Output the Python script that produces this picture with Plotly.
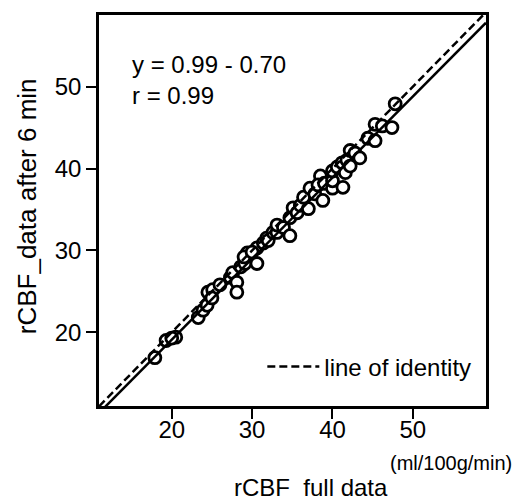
import plotly.graph_objects as go

# Data (rCBF, ml/100g/min)
full_data = [17.9, 19.3, 20.5, 20.0, 23.3, 23.9, 24.4, 24.5, 25.1, 25.0,
             26.0, 27.3, 27.6, 28.1, 28.1, 28.6, 29.1, 29.4, 29.0, 30.6,
             30.6, 30.0, 31.4, 31.8, 32.0, 32.6, 33.1, 33.1, 33.9, 34.7,
             34.7, 35.1, 35.6, 36.0, 36.4, 37.0, 37.2, 37.8, 38.5, 38.8,
             38.2, 39.0, 40.0, 40.0, 40.0, 40.6, 41.2, 41.3, 41.6, 41.8,
             42.2, 42.2, 42.8, 43.4, 44.4, 45.3, 45.3, 46.2, 47.4, 47.8]
after_6min = [16.9, 19.0, 19.4, 19.3, 21.8, 22.7, 23.3, 24.9, 25.2, 24.2,
              25.8, 26.7, 27.3, 26.1, 24.9, 28.0, 28.4, 29.7, 29.2, 28.4,
              30.3, 29.8, 30.9, 31.5, 31.2, 32.2, 32.2, 33.1, 32.8, 31.8,
              34.0, 35.2, 34.6, 35.5, 36.5, 35.1, 37.6, 36.9, 39.1, 36.1,
              38.0, 38.2, 37.6, 38.5, 39.7, 40.2, 40.7, 37.7, 39.5, 41.0,
              40.3, 42.2, 41.9, 41.3, 43.7, 43.4, 45.4, 45.2, 45.0, 47.9]

slope = 0.99
intercept = -0.70
x_range = [10.95, 59.1]
y_range = [11.0, 58.75]
ticks = [20, 30, 40, 50]

FONT = "Liberation Sans, Arial, sans-serif"

fig = go.Figure()
fig.add_trace(go.Scatter(
    x=full_data, y=after_6min, mode="markers",
    marker=dict(size=12, color="white", line=dict(color="black", width=2.8)),
    showlegend=False))
fig.add_trace(go.Scatter(
    x=x_range, y=[slope * v + intercept for v in x_range], mode="lines",
    line=dict(color="black", width=2.5), showlegend=False))
fig.add_trace(go.Scatter(
    x=x_range, y=x_range, mode="lines",
    line=dict(color="black", width=2.5, dash="8px,4px"),
    name="line of identity", showlegend=True))

fig.update_layout(
    width=517, height=501,
    margin=dict(l=99, r=31, t=13, b=95),
    paper_bgcolor="white", plot_bgcolor="white",
    font=dict(family=FONT, size=24, color="black"),
    legend=dict(x=0.975, y=0.10, xanchor="right", yanchor="middle",
                itemwidth=52, bgcolor="rgba(0,0,0,0)", font=dict(size=24)),
    xaxis=dict(range=x_range, tickvals=ticks, ticks="outside", ticklen=10,
               tickwidth=2, tickcolor="black", showgrid=False, zeroline=False,
               showline=True, linecolor="black", linewidth=2.5, mirror=True,
               ticklabelstandoff=-10),
    yaxis=dict(range=y_range, tickvals=ticks, ticks="outside", ticklen=10,
               tickwidth=2, tickcolor="black", showgrid=False, zeroline=False,
               showline=True, linecolor="black", linewidth=2.5, mirror=True),
    annotations=[
        dict(text="y = 0.99 - 0.70<br>r = 0.99", xref="paper", yref="paper",
             x=0.08, y=0.835, xanchor="left", yanchor="middle", align="left",
             showarrow=False, font=dict(size=24)),
        dict(text="rCBF  full data", xref="paper", yref="paper",
             x=0.548, y=-0.208, xanchor="center", yanchor="middle",
             showarrow=False, font=dict(size=24)),
        dict(text="(ml/100g/min)", xref="paper", yref="paper",
             x=0.91, y=-0.145, xanchor="center", yanchor="middle",
             showarrow=False, font=dict(size=20)),
        dict(text="rCBF_data after 6 min", xref="paper", yref="paper",
             x=-0.187, y=0.51, xanchor="center", yanchor="middle",
             textangle=-90, showarrow=False, font=dict(size=26)),
    ],
)

fig.write_html("out.html")
